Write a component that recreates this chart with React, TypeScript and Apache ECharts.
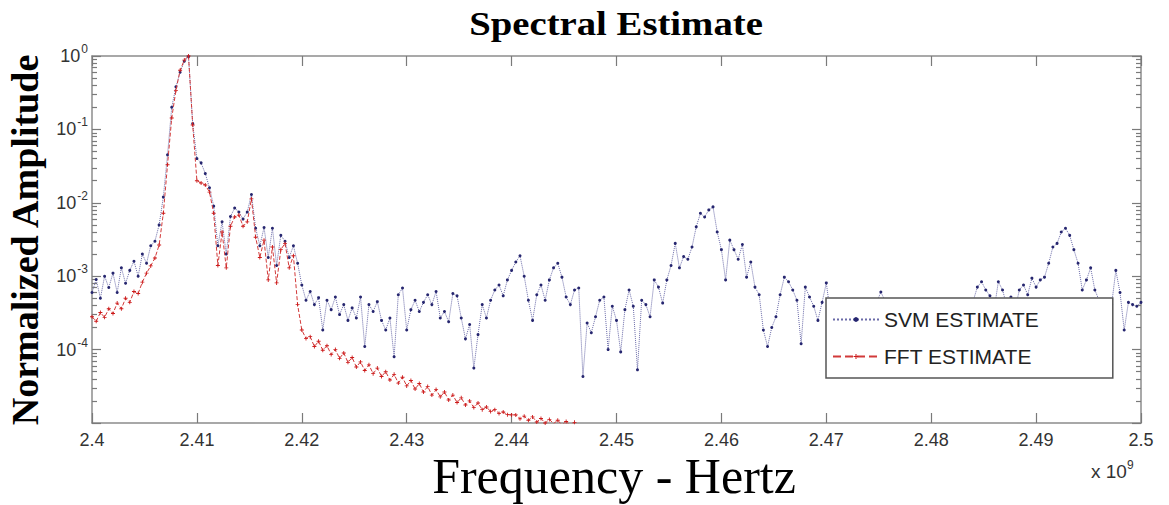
import React, { useEffect, useRef } from "react";
import * as echarts from "echarts";

// Frequency grid (GHz, shown with a x10^9 multiplier)
const F_START = 2.4;
const F_STEP = 0.0004;

const X_MIN = 2.4;
const X_MAX = 2.5;
const X_INTERVAL = 0.01;

const Y_DECADES = [1e-5, 1e-4, 1e-3, 1e-2, 1e-1, 1];
const MINOR_MULTIPLIERS = [2, 3, 4, 5, 6, 7, 8, 9];

const LEGEND_NAMES = ["SVM ESTIMATE", "FFT ESTIMATE"];

// SVM estimate, normalized amplitude (251 samples, 2.4000 .. 2.5000 GHz)
const SVM_VALUES = [
  6.0e-4, 9.0e-4, 5.0e-4, 1.0e-3, 7.0e-4, 1.1e-3, 6.0e-4, 1.3e-3, 8.0e-4, 1.2e-3,
  1.6e-3, 1.0e-3, 2.0e-3, 1.5e-3, 2.6e-3, 3.0e-3, 5.0e-3, 1.2e-2, 4.5e-2, 0.2,
  0.38, 0.6, 0.85, 0.98, 0.12, 0.04, 0.035, 0.025, 0.016, 9.0e-3,
  2.6e-3, 5.5e-3, 2.0e-3, 6.5e-3, 8.5e-3, 7.5e-3, 6.0e-3, 7.5e-3, 1.3e-2, 4.5e-3,
  2.6e-3, 4.6e-3, 1.8e-3, 4.5e-3, 1.4e-3, 3.6e-3, 3.0e-3, 1.8e-3, 2.6e-3, 1.5e-3,
  7.6e-4, 4.7e-4, 6.2e-4, 4.1e-4, 5.1e-4, 1.85e-4, 4.7e-4, 3.5e-4, 5.2e-4, 3.0e-4,
  4.1e-4, 2.5e-4, 3.7e-4, 2.7e-4, 5.2e-4, 1.1e-4, 4.1e-4, 3.3e-4, 4.5e-4, 2.5e-4,
  1.85e-4, 2.7e-4, 8.0e-5, 5.6e-4, 6.9e-4, 1.85e-4, 3.5e-4, 4.7e-4, 3.3e-4, 4.4e-4,
  5.6e-4, 4.1e-4, 6.2e-4, 2.7e-4, 3.3e-4, 2.4e-4, 5.8e-4, 5.4e-4, 2.7e-4, 1.4e-4,
  2.2e-4, 5.6e-5, 1.6e-4, 4.1e-4, 2.7e-4, 4.7e-4, 6.5e-4, 7.6e-4, 5.4e-4, 8.9e-4,
  1.2e-3, 1.56e-3, 1.9e-3, 1.0e-3, 4.7e-4, 2.5e-4, 5.6e-4, 7.6e-4, 4.7e-4, 8.9e-4,
  1.3e-3, 1.5e-3, 9.7e-4, 5.2e-4, 4.1e-4, 6.5e-4, 6.9e-4, 4.3e-5, 2.3e-4, 1.7e-4,
  2.8e-4, 4.7e-4, 5.2e-4, 1.0e-4, 3.9e-4, 2.5e-4, 9.3e-5, 3.5e-4, 6.5e-4, 3.9e-4,
  5.3e-5, 4.7e-4, 4.1e-4, 2.8e-4, 8.9e-4, 7.1e-4, 4.3e-4, 8.9e-4, 1.4e-3, 2.8e-3,
  1.3e-3, 1.85e-3, 1.7e-3, 2.5e-3, 4.7e-3, 7.2e-3, 6.4e-3, 8.0e-3, 8.8e-3, 4.0e-3,
  2.3e-3, 8.9e-4, 3.1e-3, 2.3e-3, 1.7e-3, 2.7e-3, 9.7e-4, 1.56e-3, 7.1e-4, 5.6e-4,
  1.85e-4, 1.1e-4, 2.0e-4, 2.8e-4, 5.6e-4, 9.7e-4, 8.4e-4, 6.5e-4, 4.7e-4, 1.2e-4,
  7.1e-4, 5.2e-4, 3.9e-4, 2.5e-4, 4.4e-4, 8.1e-4, 3.0e-4, 1.8e-4, 3.6e-4, 2.4e-4,
  4.2e-4, 1.5e-4, 3.2e-4, 2.6e-4, 4.0e-4, 2.0e-4, 3.4e-4, 4.4e-4, 6.1e-4, 4.6e-4,
  2.8e-4, 1.6e-4, 3.3e-4, 2.2e-4, 4.1e-4, 2.9e-4, 1.3e-4, 3.6e-4, 2.5e-4, 4.3e-4,
  1.9e-4, 3.1e-4, 2.3e-4, 3.9e-4, 1.7e-4, 3.5e-4, 2.7e-4, 4.2e-4, 2.1e-4, 3.8e-4,
  4.6e-4, 7.1e-4, 8.4e-4, 6.5e-4, 5.4e-4, 3.5e-4, 8.4e-4, 6.5e-4, 4.0e-4, 5.2e-4,
  3.5e-4, 6.5e-4, 7.6e-4, 5.6e-4, 9.4e-4, 7.1e-4, 8.9e-4, 9.7e-4, 1.5e-3, 2.5e-3,
  2.8e-3, 4.0e-3, 4.5e-3, 3.6e-3, 2.3e-3, 1.5e-3, 6.5e-4, 8.9e-4, 1.3e-3, 6.5e-4,
  4.7e-4, 3.5e-4, 2.5e-4, 4.1e-4, 1.2e-3, 6.0e-4, 1.85e-4, 4.4e-4, 4.1e-4, 3.9e-4,
  4.4e-4,
];

// FFT estimate, normalized amplitude (116 samples, 2.4000 .. 2.4460 GHz)
const FFT_VALUES = [
  2.8e-4, 2.43e-4, 3.2e-4, 2.75e-4, 3.6e-4, 3.1e-4, 4.3e-4, 3.6e-4, 5.0e-4, 4.4e-4,
  6.2e-4, 5.8e-4, 8.3e-4, 1.1e-3, 1.38e-3, 1.77e-3, 2.66e-3, 7.2e-3, 3.3e-2, 0.143,
  0.34, 0.64, 0.88, 1.0, 0.115, 0.02, 0.0186, 0.0175, 0.014, 7.2e-3,
  1.4e-3, 4.0e-3, 1.3e-3, 4.8e-3, 6.4e-3, 6.8e-3, 4.8e-3, 5.5e-3, 1.13e-2, 3.4e-3,
  1.8e-3, 3.1e-3, 8.9e-4, 2.5e-3, 8.1e-4, 2.3e-3, 2.8e-3, 1.3e-3, 1.9e-3, 4.1e-4,
  1.85e-4, 1.42e-4, 1.5e-4, 1.1e-4, 1.3e-4, 9.8e-5, 1.13e-4, 8.6e-5, 1.0e-4, 7.6e-5,
  9.0e-5, 6.7e-5, 7.8e-5, 5.8e-5, 6.8e-5, 5.2e-5, 6.2e-5, 4.7e-5, 5.6e-5, 4.3e-5,
  5.0e-5, 3.85e-5, 4.6e-5, 3.5e-5, 4.2e-5, 3.2e-5, 3.8e-5, 2.9e-5, 3.45e-5, 2.64e-5,
  3.15e-5, 2.4e-5, 2.85e-5, 2.27e-5, 2.64e-5, 2.06e-5, 2.4e-5, 1.9e-5, 2.2e-5, 1.76e-5,
  2.0e-5, 1.62e-5, 1.87e-5, 1.52e-5, 1.65e-5, 1.44e-5, 1.52e-5, 1.35e-5, 1.41e-5, 1.3e-5,
  1.29e-5, 1.29e-5, 1.14e-5, 1.24e-5, 1.09e-5, 1.21e-5, 1.03e-5, 1.15e-5, 1.0e-5, 1.12e-5,
  9.8e-6, 1.09e-5, 9.4e-6, 1.05e-5, 9.1e-6, 1.02e-5,
];

const SANS = "'Liberation Sans', Arial, Helvetica, sans-serif";
const SERIF = "'Liberation Serif', 'Times New Roman', Times, serif";

const toPairs = (vals: number[]) =>
  vals.map((v, i) => [+(F_START + i * F_STEP).toFixed(4), v]);

const CROSS =
  "path://M-1,-0.22 L-0.22,-0.22 L-0.22,-1 L0.22,-1 L0.22,-0.22 L1,-0.22 L1,0.22 L0.22,0.22 L0.22,1 L-0.22,1 L-0.22,0.22 L-1,0.22 Z";

export default function App() {
  const ref = useRef<HTMLDivElement>(null);

  useEffect(() => {
    if (!ref.current) return;
    const chart = echarts.init(ref.current, null, { renderer: "svg" });

    const minors: number[] = [];
    Y_DECADES.slice(0, -1).forEach((d) =>
      MINOR_MULTIPLIERS.forEach((m) => minors.push(+(d * m).toPrecision(3)))
    );

    const boxLine = { color: "#8c8c8c", width: 1.5 };
    const tickLine = { color: "#7a7a7a", width: 1.2 };

    const yBase = {
      type: "log" as const,
      logBase: 10,
      min: 1e-5,
      max: 1,
      splitLine: { show: false },
    };

    const option: any = {
      animation: false,
      backgroundColor: "#ffffff",
      grid: { left: 92, right: 28, top: 56, bottom: 82, containLabel: false },
      xAxis: [
        {
          type: "value",
          position: "bottom",
          min: X_MIN,
          max: X_MAX,
          interval: X_INTERVAL,
          axisLine: { show: true, onZero: false, lineStyle: boxLine },
          axisTick: { show: true, inside: true, length: 10, lineStyle: tickLine },
          axisLabel: {
            margin: 8,
            fontSize: 18,
            color: "#333",
            fontFamily: SANS,
            formatter: (v: number) => String(+v.toFixed(2)),
          },
          splitLine: { show: false },
        },
        {
          type: "value",
          position: "top",
          min: X_MIN,
          max: X_MAX,
          interval: X_INTERVAL,
          axisLine: { show: true, onZero: false, lineStyle: boxLine },
          axisTick: { show: true, inside: true, length: 10, lineStyle: tickLine },
          axisLabel: { show: false },
          splitLine: { show: false },
        },
      ],
      yAxis: [
        {
          ...yBase,
          position: "left",
          axisLine: { show: true, lineStyle: boxLine },
          axisTick: { show: true, inside: true, length: 9, customValues: Y_DECADES, lineStyle: tickLine },
          axisLabel: {
            customValues: Y_DECADES,
            margin: 4,
            color: "#333",
            fontFamily: SANS,
            formatter: (v: number) => {
              const e = Math.round(Math.log10(v));
              if (e === -5) return "";
              return `{b|10}{s|${e}}`;
            },
            rich: {
              b: { fontSize: 18, color: "#333", fontFamily: SANS },
              s: { fontSize: 12, color: "#333", fontFamily: SANS, padding: [0, 0, 14, 1] },
            },
          },
        },
        {
          ...yBase,
          position: "left",
          axisLine: { show: false },
          axisTick: { show: true, inside: true, length: 5, customValues: minors, lineStyle: tickLine },
          axisLabel: { show: false },
        },
        {
          ...yBase,
          position: "right",
          axisLine: { show: true, lineStyle: boxLine },
          axisTick: { show: true, inside: true, length: 9, customValues: Y_DECADES, lineStyle: tickLine },
          axisLabel: { show: false },
        },
        {
          ...yBase,
          position: "right",
          axisLine: { show: false },
          axisTick: { show: true, inside: true, length: 5, customValues: minors, lineStyle: tickLine },
          axisLabel: { show: false },
        },
      ],
      legend: {
        orient: "vertical",
        left: 826,
        top: 298,
        padding: [11, 74, 11, 6],
        itemWidth: 46,
        itemHeight: 6,
        itemGap: 16,
        backgroundColor: "#ffffff",
        borderColor: "#555",
        borderWidth: 1.5,
        borderRadius: 0,
        textStyle: { fontSize: 21, lineHeight: 21, color: "#222", fontFamily: SANS },
        data: LEGEND_NAMES,
      },
      series: [
        {
          name: LEGEND_NAMES[0],
          type: "line",
          xAxisIndex: 0,
          yAxisIndex: 0,
          data: toPairs(SVM_VALUES),
          symbol: "circle",
          symbolSize: 3,
          showSymbol: true,
          showAllSymbol: true,
          itemStyle: { color: "#26266f" },
          lineStyle: { color: "#6a6aa8", width: 1, type: "dotted" },
          z: 2,
        },
        {
          name: LEGEND_NAMES[1],
          type: "line",
          xAxisIndex: 0,
          yAxisIndex: 0,
          data: toPairs(FFT_VALUES),
          symbol: CROSS,
          symbolSize: 4,
          showSymbol: true,
          showAllSymbol: true,
          itemStyle: { color: "#cc1a1a" },
          lineStyle: { color: "#d23a3a", width: 1, type: "dashed" },
          z: 3,
        },
      ],
      graphic: [
        {
          type: "text",
          x: 616,
          y: 24,
          scaleX: 1.14,
          style: {
            text: "Spectral Estimate",
            font: `bold 34px ${SERIF}`,
            fill: "#000",
            textAlign: "center",
            textVerticalAlign: "middle",
          },
        },
        {
          type: "text",
          x: 25,
          y: 240,
          rotation: Math.PI / 2,
          style: {
            text: "Normalized Amplitude",
            font: `bold 38px ${SERIF}`,
            fill: "#000",
            textAlign: "center",
            textVerticalAlign: "middle",
          },
        },
        {
          type: "text",
          x: 614,
          y: 476,
          style: {
            text: "Frequency - Hertz",
            font: `50px ${SERIF}`,
            fill: "#000",
            textAlign: "center",
            textVerticalAlign: "middle",
          },
        },
        {
          type: "text",
          x: 1091,
          y: 471,
          style: {
            text: "{m|x 10}{e|9}",
            textVerticalAlign: "middle",
            rich: {
              m: { fontSize: 19, fill: "#333", fontFamily: SANS },
              e: { fontSize: 12, fill: "#333", fontFamily: SANS, padding: [0, 0, 13, 0] },
            },
          },
        },
      ],
    };

    chart.setOption(option);
    return () => chart.dispose();
  }, []);

  return (
    <div
      ref={ref}
      style={{ position: "fixed", left: 0, top: 0, width: 1169, height: 505, background: "#fff" }}
    />
  );
}
